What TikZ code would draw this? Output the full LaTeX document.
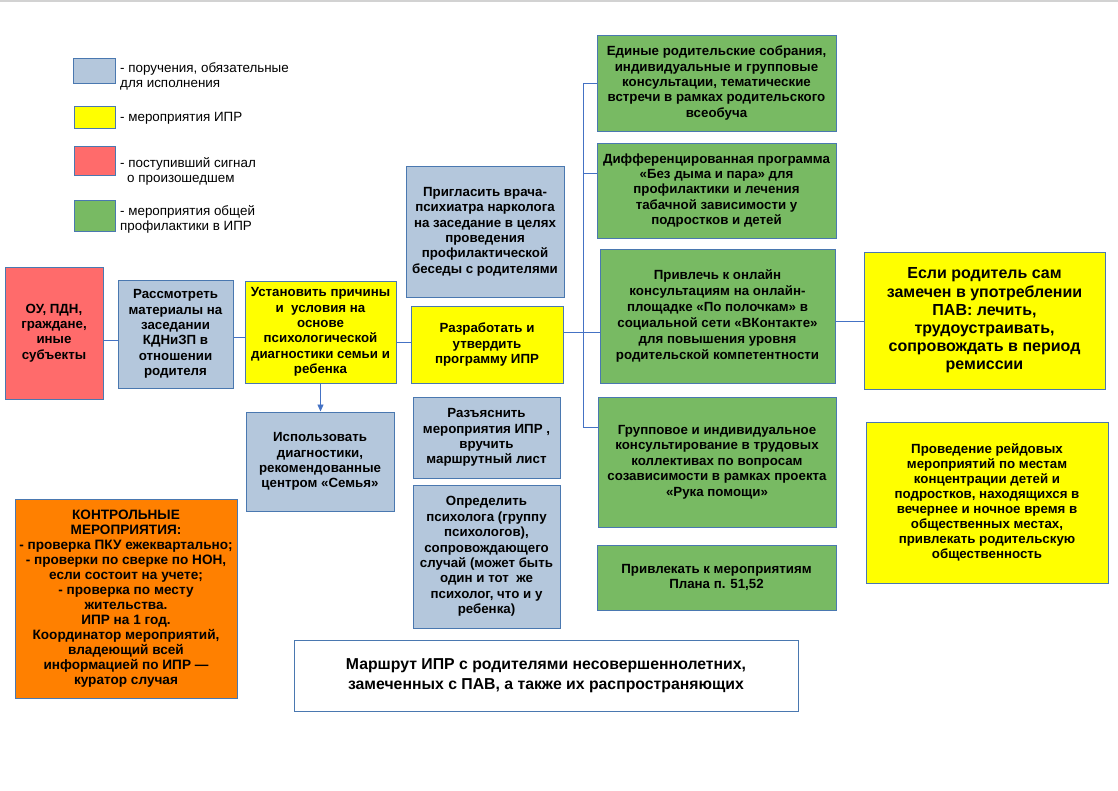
\documentclass[tikz,border=0pt]{standalone}
\usepackage{fontspec}
\setmainfont{Liberation Sans}
\usetikzlibrary{arrows.meta}
\definecolor{boxblue}{HTML}{B4C7DC}
\definecolor{boxyellow}{HTML}{FFFF00}
\definecolor{boxred}{HTML}{FF6B6B}
\definecolor{boxgreen}{HTML}{78BA63}
\definecolor{boxorange}{HTML}{FF8000}
\definecolor{edgeblue}{HTML}{4A78B0}
\definecolor{linkblue}{HTML}{4472C4}
\begin{document}
\begin{tikzpicture}[x=1pt,y=-1pt,
    box/.style={draw=edgeblue,line width=1pt,align=center,inner sep=0pt,
      font=\fontsize{13.3}{15.4}\selectfont\bfseries},
    poruch/.style={box,fill=boxblue},
    ipr/.style={box,fill=boxyellow},
    signal/.style={box,fill=boxred},
    obsh/.style={box,fill=boxgreen},
    swatch/.style={draw=edgeblue,line width=1pt,inner sep=0pt},
    legtext/.style={anchor=west,align=left,inner sep=0pt,
      font=\fontsize{13.4}{15.5}\selectfont},
    link/.style={draw=linkblue,line width=0.9pt}]
    \useasboundingbox (0,0) rectangle (1118,790);
    \fill[gray!35] (0,0) rectangle (1118,2);

    % legend
    \node[swatch,fill=boxblue,minimum width=42,minimum height=25] (sw1) at (94,70.5) {};
    \node[swatch,fill=boxyellow,minimum width=41,minimum height=22] (sw2) at (94.5,117) {};
    \node[swatch,fill=boxred,minimum width=41,minimum height=29] (sw3) at (94.5,160.5) {};
    \node[swatch,fill=boxgreen,minimum width=41,minimum height=31] (sw4) at (94.5,215.5) {};
    \node[legtext] (leg1) at (120,76.5) {- поручения, обязательные\\для исполнения};
    \node[legtext] (leg2) at (120,118) {- мероприятия ИПР};
    \node[legtext] (leg3) at (120,171.5) {- поступивший сигнал\\\hspace*{7pt}о произошедшем};
    \node[legtext] (leg4) at (120,219.5) {- мероприятия общей\\профилактики в ИПР};

    % main chain
    \node[signal,minimum width=98,minimum height=132] (ou) at (54,333) {ОУ, ПДН,\\граждане,\\иные\\субъекты};
    \node[poruch,minimum width=115,minimum height=108] (rassm) at (175.5,334) {Рассмотреть\\материалы на\\заседании\\КДНиЗП в\\отношении\\родителя};
    \node[ipr,minimum width=151,minimum height=102] (ust) at (320.5,332) {Установить причины\\и\ \ условия на\\основе\\психологической\\диагностики семьи и\\ребенка};
    \node[poruch,minimum width=158,minimum height=131] (prigl) at (485,231.5) {Пригласить врача-\\психиатра нарколога\\на заседание в целях\\проведения\\профилактической\\беседы с родителями};
    \node[ipr,minimum width=152,minimum height=77] (razr) at (487,344.5) {Разработать и\\утвердить\\программу ИПР};
    \node[poruch,minimum width=148,minimum height=99] (isp) at (320,461.5) {Использовать\\диагностики,\\рекомендованные\\центром «Семья»};
    \node[poruch,minimum width=147,minimum height=81] (razj) at (486.5,437.5) {Разъяснить\\мероприятия ИПР ,\\вручить\\маршрутный лист};
    \node[poruch,minimum width=147,minimum height=143] (opr) at (486.5,556.5) {Определить\\психолога (группу\\психологов),\\сопровождающего\\случай (может быть\\один и тот\ \ же\\психолог, что и у\\ребенка)};

    % general prevention
    \node[obsh,minimum width=239,minimum height=96] (g1) at (716.5,83) {Единые родительские собрания,\\индивидуальные и групповые\\консультации, тематические\\встречи в рамках родительского\\всеобуча};
    \node[obsh,minimum width=239,minimum height=95] (g2) at (716.5,190.5) {Дифференцированная программа\\«Без дыма и пара» для\\профилактики и лечения\\табачной зависимости у\\подростков и детей};
    \node[obsh,minimum width=235,minimum height=134,font=\fontsize{13.3}{16}\selectfont\bfseries] (g3) at (717.5,316) {Привлечь к онлайн\\консультациям на онлайн-\\площадке «По полочкам» в\\социальной сети «ВКонтакте»\\для повышения уровня\\родительской компетентности};
    \node[obsh,minimum width=238,minimum height=130] (g4) at (717,462) {Групповое и индивидуальное\\консультирование в трудовых\\коллективах по вопросам\\созависимости в рамках проекта\\«Рука помощи»};
    \node[obsh,minimum width=239,minimum height=65] (g5) at (716.5,577.5) {Привлекать к мероприятиям\\Плана п. 51,52};

    \node[ipr,minimum width=241,minimum height=137,font=\fontsize{16}{18.2}\selectfont\bfseries] (esli) at (984.5,320.5) {Если родитель сам\\замечен в употреблении\\ПАВ: лечить,\\трудоустраивать,\\сопровождать в период\\ремиссии};
    \node[ipr,minimum width=242,minimum height=161,font=\fontsize{13.3}{15}\selectfont\bfseries] (rejd) at (987,502.5) {Проведение рейдовых\\мероприятий по местам\\концентрации детей и\\подростков, находящихся в\\вечернее и ночное время в\\общественных местах,\\привлекать родительскую\\общественность};

    \node[box,fill=boxorange,minimum width=222,minimum height=199,font=\fontsize{13.6}{15}\selectfont\bfseries] (kontr) at (126,598.5) {КОНТРОЛЬНЫЕ\\МЕРОПРИЯТИЯ:\\- проверка ПКУ ежеквартально;\\- проверки по сверке по НОН,\\если состоит на учете;\\- проверка по месту\\жительства.\\ИПР на 1 год.\\Координатор мероприятий,\\владеющий всей\\информацией по ИПР —\\куратор случая};

    \node[box,fill=white,minimum width=504,minimum height=71,font=\fontsize{15.8}{20.5}\selectfont\bfseries] (title) at (546,675.5) {Маршрут ИПР с родителями несовершеннолетних,\\замеченных с ПАВ, а также их распространяющих};

    % connectors
    \draw[link] (ou.east |- 0,340) -- (rassm.west |- 0,340);
    \draw[link] (rassm.east |- 0,337) -- (ust.west |- 0,337);
    \draw[link] (ust.east |- 0,342) -- (razr.west |- 0,342);
    \draw[link] (razr.east |- 0,332) -- (g3.west |- 0,332);
    \draw[link,-{Triangle[length=7pt,width=6pt]}] (ust.south) -- (ust.south |- isp.north);
    \coordinate (bustop) at (583,83);
    \coordinate (busbot) at (583,427);
    \draw[link] (g1.west) -- (bustop) -- (busbot) -- (g4.west |- busbot);
    \draw[link] (bustop |- 0,173) -- (g2.west |- 0,173);
    \draw[link] (g3.east |- 0,321) -- (esli.west |- 0,321);
\end{tikzpicture}
\end{document}
